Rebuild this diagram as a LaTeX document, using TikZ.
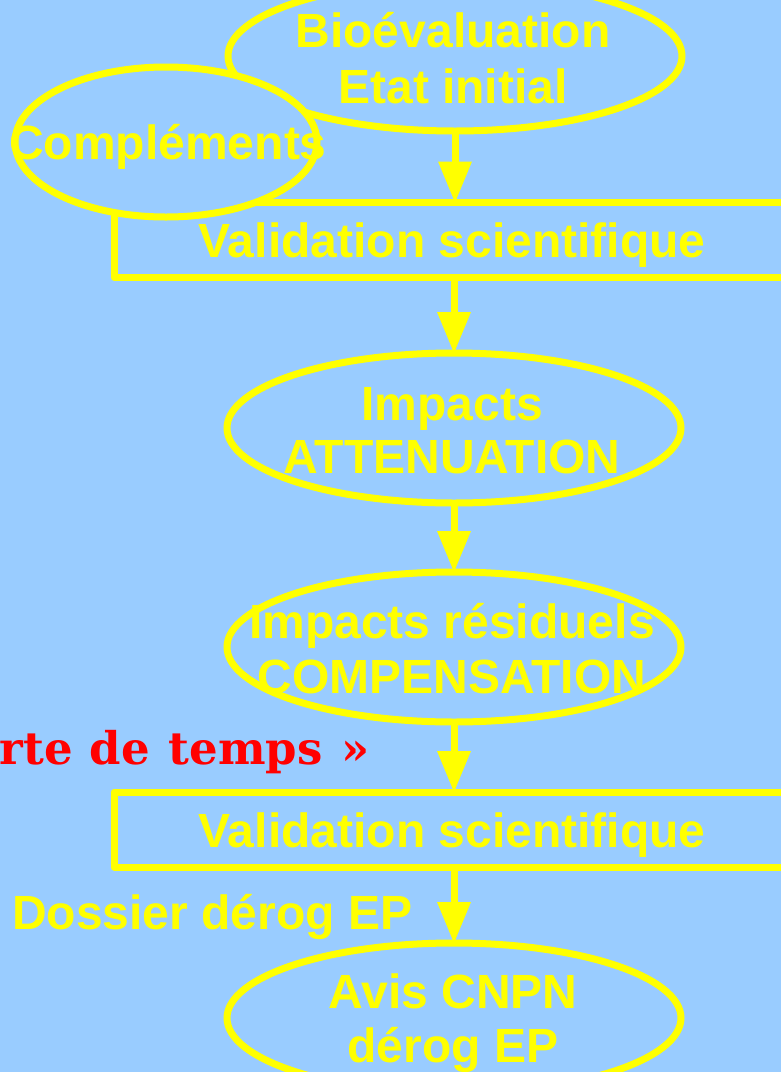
\documentclass[tikz,border=0pt]{standalone}
\usepackage{fontspec}
\setmainfont{Liberation Sans}
\newfontfamily\redfont{DejaVu Serif}
\usetikzlibrary{shapes.geometric,arrows.meta}
\definecolor{bgblue}{HTML}{99CCFF}
\definecolor{ylw}{HTML}{FFFF00}
\definecolor{rd}{HTML}{FF0000}
\begin{document}
\begin{tikzpicture}[x=1pt,y=-1pt,
  ell/.style={ellipse,draw=ylw,line width=7pt,minimum width=454pt,minimum height=150pt,inner sep=0pt,outer sep=0pt},
  box/.style={rectangle,draw=ylw,line width=7pt,inner sep=0pt,outer sep=0pt,line join=round,minimum width=676pt,minimum height=75pt},
  lbl/.style={text=ylw,font=\fontsize{48}{55}\selectfont\bfseries,inner sep=0pt,anchor=base},
  redlbl/.style={text=rd,font=\redfont\fontsize{45}{50}\selectfont\bfseries,inner sep=0pt,anchor=base east},
  flow/.style={draw=ylw,line width=7pt,-{Triangle[width=34pt,length=41pt,line width=0pt]}}]
\useasboundingbox (0,0) rectangle (781,1072);
\fill[bgblue] (0,0) rectangle (781,1072);
\clip (0,0) rectangle (781,1072);
% shapes
\node[ell] (bio) at (455,56) {};
\node[box] (v1) at (452,240) {};
\node[ell,fill=bgblue,minimum width=302pt] (compl) at (166,142) {};
\node[ell] (imp) at (454,428) {};
\node[ell] (comp) at (454,647) {};
\node[box] (v2) at (452,829.5) {};
\node[ell] (avis) at (454,1018) {};
% texts
\node[lbl] (tbio1) at (453,47) {Bioévaluation};
\node[lbl] (tbio2) at (453,103) {Etat initial};
\node[lbl] (tcompl) at (168,159) {Compléments};
\node[lbl] (tv1) at (452,257) {Validation scientifique};
\node[lbl] (timp1) at (452,420) {Impacts};
\node[lbl] (timp2) at (452,473) {ATTENUATION};
\node[lbl] (tcomp1) at (452,638) {Impacts résiduels};
\node[lbl] (tcomp2) at (452,693) {COMPENSATION};
\node[redlbl] (tperte) at (370,764) {«\hspace{12pt}perte\hspace{17pt}de\hspace{19pt}temps\hspace{19pt}»};
\node[lbl] (tv2) at (452,847) {Validation scientifique};
\node[lbl,anchor=base west] (tdoss) at (12,929) {Dossier dérog EP};
\node[lbl] (tavis1) at (453,1008) {Avis CNPN};
\node[lbl] (tavis2) at (453,1062) {dérog EP};
% connectors
\draw[flow] (bio.south) -- (bio.south |- v1.north);
\draw[flow] (imp.north |- v1.south) -- (imp.north);
\draw[flow] (imp.south) -- (comp.north);
\draw[flow] (comp.south) -- (comp.south |- v2.north);
\draw[flow] (avis.north |- v2.south) -- (avis.north);
\end{tikzpicture}
\end{document}
